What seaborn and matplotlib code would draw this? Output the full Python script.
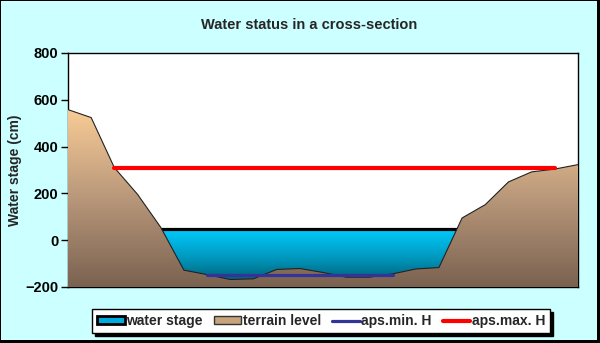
import numpy as np
import pandas as pd
import seaborn as sns
import matplotlib.pyplot as plt
from matplotlib.colors import LinearSegmentedColormap
from matplotlib.patches import Polygon, Patch, Rectangle
from matplotlib.lines import Line2D

# cross-section profile points (evenly spaced categories)
points = [0, 1, 2, 3, 4, 5, 6, 7, 8, 9, 10, 11, 12, 13, 14, 15, 16, 17, 18, 19, 20, 21, 22]
terrain = [558, 524, 310, 196, 55, -128, -147, -168, -165, -125, -121, -138,
           -158, -158, -144, -123, -117, 95, 152, 249, 292, 304, 323]
water_stage = 50
aps_min_h = -147
aps_min_span = (6, 14)
aps_max_h = 309
aps_max_span = (2, 21)

y_floor = -200

sns.set_style("white")
plt.rcParams['font.family'] = ['Liberation Sans', 'DejaVu Sans']
plt.rcParams['font.weight'] = 'bold'

fig = plt.figure(figsize=(6, 3.43), dpi=100)
fig.patch.set_facecolor('black')
fig.add_artist(Rectangle((1/600, 3/343), 596/600, 339/343, transform=fig.transFigure,
                         facecolor='#CCFFFF', edgecolor='none', zorder=-10))

ax = fig.add_axes([68/600, 1 - 287/343, 510/600, 234/343])
ax.set_facecolor('white')

grad = np.linspace(0, 1, 256).reshape(-1, 1)

# water stage: gradient area behind terrain
water_cmap = LinearSegmentedColormap.from_list('water', ['#005468', '#0098BE', '#00CCFF'])
im_w = ax.imshow(grad, extent=[points[0], points[-1], y_floor, water_stage], origin='lower',
                 cmap=water_cmap, aspect='auto', zorder=1, interpolation='bilinear')
wpoly = Polygon([(points[0], y_floor), (points[0], water_stage), (points[-1], water_stage),
                 (points[-1], y_floor)], facecolor='none', edgecolor='none')
ax.add_patch(wpoly)
im_w.set_clip_path(wpoly)
sns.lineplot(x=[points[0], points[-1]], y=[water_stage, water_stage], color='black',
             linewidth=2.3, ax=ax, zorder=2)

# terrain: gradient area
terrain_cmap = LinearSegmentedColormap.from_list('terrain', ['#7A6250', '#B8977A', '#F9CC96'])
im_t = ax.imshow(grad, extent=[points[0], points[-1], y_floor, max(terrain)], origin='lower',
                 cmap=terrain_cmap, aspect='auto', zorder=3, interpolation='bilinear')
tpoly = Polygon(list(zip(points, terrain)) + [(points[-1], y_floor), (points[0], y_floor)],
                facecolor='none', edgecolor='none')
ax.add_patch(tpoly)
im_t.set_clip_path(tpoly)
sns.lineplot(x=points, y=terrain, color='#222222', linewidth=0.8, ax=ax, zorder=4)

# permitted levels
sns.lineplot(x=list(aps_min_span), y=[aps_min_h, aps_min_h], color='#333399',
             linewidth=2.3, ax=ax, zorder=5)
sns.lineplot(x=list(aps_max_span), y=[aps_max_h, aps_max_h], color='#FF0000',
             linewidth=3.0, ax=ax, zorder=5)

ax.set_xlim(points[0], points[-1])
ax.set_ylim(-200, 800)
ax.set_yticks([-200, 0, 200, 400, 600, 800])
ax.set_xticks([])
ax.tick_params(axis='y', length=5, width=1, pad=2, labelsize=10.5, left=True, colors='black')
for s in ax.spines.values():
    s.set_color('black')
    s.set_linewidth(1)
ax.set_ylabel('Water stage (cm)', fontsize=10, fontweight='bold', labelpad=2)

fig.text(309/600, 1 - 25/343, 'Water status in a cross-section', ha='center', va='center',
         fontsize=10.5, fontweight='bold')

handles = [
    Patch(facecolor='#00AADD', edgecolor='black', linewidth=2),
    Patch(facecolor='#C8A47E', edgecolor='#333333', linewidth=1),
    Line2D([], [], color='#333399', linewidth=2.3),
    Line2D([], [], color='#FF0000', linewidth=3.0),
]
labels = ['water stage', 'terrain level', 'aps.min. H', 'aps.max. H']
leg = fig.legend(handles, labels, loc='center', bbox_to_anchor=(321/600, 1 - 321/343),
                 ncol=4, fontsize=10, frameon=True, fancybox=False,
                 shadow={'color': 'black', 'alpha': 1}, edgecolor='black',
                 handlelength=2.0, handleheight=0.5, handletextpad=0.1,
                 columnspacing=0.8, borderpad=0.35)
leg.get_frame().set_linewidth(1)
leg.get_frame().set_facecolor('white')

fig.savefig('out.png', dpi=100)
